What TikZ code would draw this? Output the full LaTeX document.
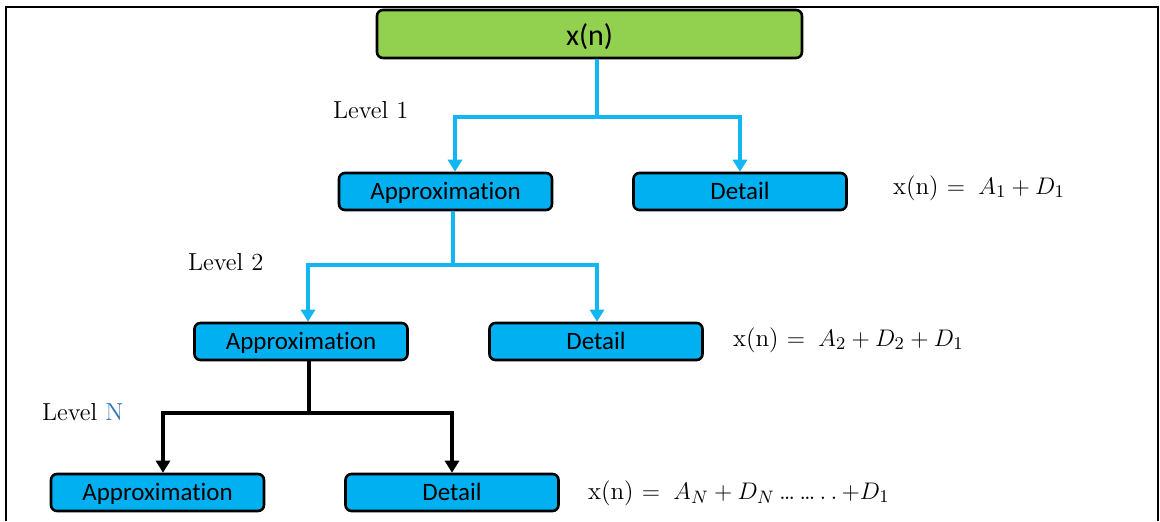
\documentclass[tikz,border=0pt]{standalone}
\usepackage{fontspec}
\usepackage{amsmath}
\usetikzlibrary{arrows.meta,positioning}
\newfontfamily\boxFont[Ligatures=NoCommon]{Carlito}
\definecolor{sigGreen}{HTML}{92D050}
\definecolor{sigBlue}{HTML}{00B0F0}
\definecolor{linkBlue}{HTML}{12B6F2}
\definecolor{levelBlue}{HTML}{2E75B6}
\newcommand{\boxWidth}{106.5pt}
\newcommand{\boxHeight}{18.5pt}

\begin{document}
\begin{tikzpicture}[x=0.5pt, y=-0.5pt,
	band/.style={draw=black, line width=1.3pt, rounded corners=3pt, fill=sigBlue,
		minimum width=\boxWidth, minimum height=\boxHeight, inner sep=0pt,
		text height=9.5pt, text depth=1.5pt,
		font=\boxFont\fontsize{12.5}{14}\selectfont},
	level/.style={anchor=west, font=\fontsize{12.3}{14}\selectfont},
	eqn/.style={anchor=west, font=\fontsize{12.5}{14}\selectfont},
	link/.style={draw=linkBlue, line width=2pt},
	blackLink/.style={draw=black, line width=2pt},
	>={Triangle[width=7pt,length=6pt]}]
	\useasboundingbox (0,0) rectangle (1160,521);
	% frame
	\draw[line width=1.2pt] (6,521) -- (6,7) -- (1158,7) -- (1158,521);

	% signal
	\node[band, fill=sigGreen, minimum width=212.5pt, minimum height=24pt,
		text height=12.5pt, text depth=1.5pt, font=\boxFont\fontsize{15}{17}\selectfont] (top) at (589.5,34) {x(n)};

	% level 1
	\node[band] (a1) at (445.5,191.5) {Approximation};
	\node[band] (d1) at (740,191.5) {Detail};
	\node[level] (lvl1) at (326,110) {Level 1};
	\node[eqn] (eq1) at (886,188) {x(n) $=\;A_1 + D_1$};
	\coordinate (s1) at (597,117);
	\draw[link] (top.south -| s1) -- (s1);
	\draw[link,->] (s1) -| ([xshift=4.75pt]a1.north);
	\draw[link,->] (s1) -| (d1.north);

	% level 2
	\node[band] (a2) at (301,341.5) {Approximation};
	\node[band] (d2) at (596,341.5) {Detail};
	\node[level] (lvl2) at (181,262) {Level 2};
	\node[eqn] (eq2) at (726,340) {x(n) $=\;A_2 + D_2 + D_1$};
	\coordinate (s2) at (453,265);
	\draw[link] (a1.south -| s2) -- (s2);
	\draw[link,->] (s2) -| ([xshift=3.5pt]a2.north);
	\draw[link,->] (s2) -| ([xshift=0.5pt]d2.north);

	% level N
	\node[band] (a3) at (157.5,492.5) {Approximation};
	\node[band] (d3) at (452,492.5) {Detail};
	\node[level] (lvlN) at (35,412) {Level \textcolor{levelBlue}{N}};
	\node[eqn] (eq3) at (581,493) {x(n) $=\;A_N + D_N$\,\dots\,\dots\,.\,.\,$+D_1$};
	\coordinate (s3) at (309,413);
	\draw[blackLink] (a2.south -| s3) -- (s3);
	\draw[blackLink,->] (s3) -| ([xshift=2.75pt]a3.north);
	\draw[blackLink,->] (s3) -| (d3.north);
\end{tikzpicture}
\end{document}
